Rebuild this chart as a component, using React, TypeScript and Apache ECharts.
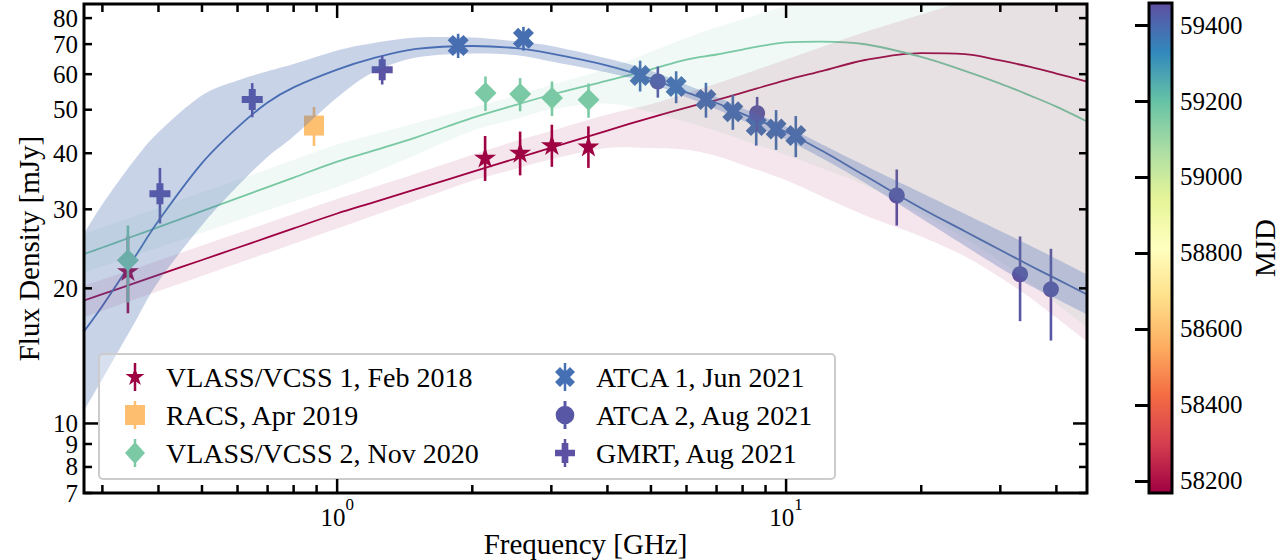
import React, { useEffect, useRef } from 'react';
import * as echarts from 'echarts';

const FONT = 'Liberation Serif';

// ---- axes ----
const X_MIN = 0.273;
const X_MAX = 46.8;
const Y_MIN = 7;
const Y_MAX = 86;
const MJD_MIN = 58168;
const MJD_MAX = 59458;

const xMajorTicks = [1, 10];
const xMinorTicks = [0.3, 0.4, 0.5, 0.6, 0.7, 0.8, 0.9, 2, 3, 4, 5, 6, 7, 8, 9, 20, 30, 40];
const yMajorTicks = [10];
const yMinorTicks = [7, 8, 9, 20, 30, 40, 50, 60, 70, 80];
const yTickLabels = [7, 8, 9, 10, 20, 30, 40, 50, 60, 70, 80];

const SPECTRAL = ['#9e0142', '#d53e4f', '#f46d43', '#fdae61', '#fee08b', '#ffffbf', '#e6f598', '#abdda4', '#66c2a5', '#3288bd', '#5e4fa2'];

// ---- measurements (GHz, mJy, MJD) ----
const vlass1Freq = [0.342, 2.136, 2.556, 3.008, 3.628];
const vlass1Flux = [21.9, 39.2, 40.2, 41.8, 41.5];
const vlass1Err = [4.3, 4.5, 4.5, 4.5, 4.4];
const vlass1Mjd = [58172, 58172, 58172, 58172, 58172];

const racsFreq = [0.888];
const racsFlux = [46.1];
const racsErr = [4.6];
const racsMjd = [58600];

const vlass2Freq = [0.342, 2.14, 2.556, 3.01, 3.63];
const vlass2Flux = [23.1, 54.5, 54.2, 53.1, 52.6];
const vlass2Err = [4.5, 4.8, 4.6, 4.7, 4.6];
const vlass2Mjd = [59160, 59160, 59160, 59160, 59160];

const atca1Freq = [1.86, 2.6, 4.73, 5.69, 6.63, 7.61, 8.58, 9.5, 10.51];
const atca1Flux = [69.5, 72.1, 59.6, 56.3, 52.7, 49.5, 46.1, 45.3, 43.8];
const atca1Err = [4.3, 4.4, 4.7, 4.6, 4.7, 4.4, 4.5, 4.6, 4.6];
const atca1Mjd = [59385, 59385, 59385, 59385, 59385, 59385, 59385, 59385, 59385];

const atca2Freq = [5.18, 8.62, 17.64, 33.2, 38.9];
const atca2Flux = [57.8, 49.1, 32.2, 21.5, 19.9];
const atca2Err = [4.6, 4.3, 4.6, 4.6, 4.6];
const atca2Mjd = [59440, 59440, 59440, 59440, 59440];

const gmrtFreq = [0.403, 0.647, 1.26];
const gmrtFlux = [32.5, 52.7, 61.4];
const gmrtErr = [4.6, 4.6, 4.5];
const gmrtMjd = [59450, 59450, 59450];

// ---- fitted spectra and their uncertainty bands ----
const fitFreq = [0.273, 0.3, 0.35, 0.4, 0.5, 0.6, 0.7, 0.8, 1.0, 1.2, 1.5, 2.0, 2.5, 3.0, 4.0, 5.0, 6.0, 7.0, 8.0, 10, 12, 15, 20, 25, 30, 35, 40, 46.8];

const redFit = [18.79, 19.41, 20.46, 21.43, 23.13, 24.63, 25.97, 27.2, 29.36, 31.06, 33.27, 36.34, 38.93, 41.17, 44.94, 48.03, 50.56, 52.54, 54.61, 58.21, 60.97, 64.53, 66.86, 66.52, 64.37, 62.27, 60.19, 57.77];
const redLo = [17.26, 17.83, 18.82, 19.72, 21.32, 22.73, 23.99, 25.13, 27.19, 29.0, 31.37, 34.71, 36.92, 38.8, 41.09, 41.07, 40.73, 39.43, 37.69, 34.82, 32.09, 29.08, 26.08, 23.57, 21.14, 19.05, 17.19, 15.23];
const redHi = [20.29, 20.93, 22.05, 23.07, 24.92, 26.53, 27.97, 29.29, 31.64, 33.54, 36.05, 39.67, 42.58, 44.88, 48.78, 51.45, 54.47, 57.18, 59.84, 64.69, 68.96, 74.53, 81.46, 87.35, 92.41, 96.92, 101.0, 106.0];

const greenFit = [23.85, 24.66, 26.09, 27.39, 29.72, 31.77, 33.62, 35.29, 38.31, 40.49, 43.4, 47.96, 51.26, 53.99, 58.06, 61.51, 64.69, 66.37, 68.08, 70.63, 70.93, 69.96, 65.56, 61.04, 57.18, 53.74, 50.79, 47.06];
const greenLo = [21.69, 22.39, 23.59, 24.67, 26.61, 28.31, 29.83, 31.21, 33.65, 36.15, 39.71, 44.86, 47.66, 50.07, 51.61, 49.41, 46.98, 44.82, 42.84, 39.67, 37.06, 33.96, 29.31, 25.86, 22.95, 20.56, 18.51, 16.36];
const greenHi = [26.42, 27.31, 28.84, 30.23, 32.72, 34.89, 36.86, 38.65, 41.82, 43.98, 46.72, 50.5, 53.77, 56.75, 61.76, 67.32, 72.28, 76.26, 79.48, 85.19, 90.16, 96.63, 105.7, 113.1, 119.7, 126.0, 131.2, 137.4];

const blueFit = [16.03, 18.27, 23.04, 28.28, 38.02, 45.67, 51.86, 56.07, 61.42, 65.05, 68.29, 69.34, 68.56, 66.65, 62.69, 58.64, 54.66, 51.76, 48.96, 44.61, 40.55, 35.62, 30.16, 26.81, 24.35, 22.46, 20.99, 19.38];
const blueLo = [10.69, 12.57, 16.44, 20.72, 27.66, 33.79, 39.25, 43.62, 53.22, 60.5, 65.35, 66.69, 66.17, 64.02, 60.5, 57.13, 53.33, 50.14, 47.3, 42.91, 39.02, 34.33, 28.64, 24.89, 22.2, 20.27, 18.95, 17.49];
const blueHi = [26.5, 30.79, 38.13, 44.55, 53.83, 58.06, 60.91, 63.22, 67.73, 70.35, 72.4, 72.4, 71.0, 69.31, 65.02, 61.04, 56.8, 53.39, 50.41, 45.81, 41.91, 37.49, 32.65, 29.31, 26.85, 24.89, 23.26, 21.47];

// ---- marker shapes ----
const STAR_SYM = 'path://M10,0 L12.245,6.91 L19.511,6.91 L13.633,11.18 L15.878,18.09 L10,13.82 L4.122,18.09 L6.367,11.18 L0.489,6.91 L7.755,6.91 Z';
const X_SYM = 'path://M5,0 L10,5 L15,0 L20,5 L15,10 L20,15 L15,20 L10,15 L5,20 L0,15 L5,10 L0,5 Z';
const PLUS_SYM = 'path://M6,0 L12,0 L12,6 L18,6 L18,12 L12,12 L12,18 L6,18 L6,12 L0,12 L0,6 L6,6 Z';
const BAR = ' M8.75,0 L11.25,0 L11.25,28 L8.75,28 Z';
const STAR_LEG = 'path://M10,4 L12.245,10.91 L19.511,10.91 L13.633,15.18 L15.878,22.09 L10,17.82 L4.122,22.09 L6.367,15.18 L0.489,10.91 L7.755,10.91 Z' + BAR;
const SQUARE_LEG = 'path://M0,4 L20,4 L20,24 L0,24 Z' + BAR;
const DIAMOND_LEG = 'path://M10,3 L20,14 L10,25 L0,14 Z' + BAR;
const X_LEG = 'path://M5,4 L10,9 L15,4 L20,9 L15,14 L20,19 L15,24 L10,19 L5,24 L0,19 L5,14 L0,9 Z' + BAR;
const CIRCLE_LEG = 'path://M2,14 A8,8 0 1,1 18,14 A8,8 0 1,1 2,14 Z M8.75,2 L11.25,2 L11.25,26 L8.75,26 Z';
const PLUS_LEG = 'path://M6.67,4 L13.33,4 L13.33,10.67 L20,10.67 L20,17.33 L13.33,17.33 L13.33,24 L6.67,24 L6.67,17.33 L0,17.33 L0,10.67 L6.67,10.67 Z' + BAR;

// Catmull-Rom smoothing of an open pixel-space polyline (drawing only)
function smoothPath(pts: number[][], steps: number): number[][] {
  const out: number[][] = [];
  const n = pts.length;
  for (let i = 0; i < n - 1; i++) {
    const p0 = pts[Math.max(0, i - 1)];
    const p1 = pts[i];
    const p2 = pts[i + 1];
    const p3 = pts[Math.min(n - 1, i + 2)];
    for (let s = 0; s < steps; s++) {
      const t = s / steps;
      const t2 = t * t;
      const t3 = t2 * t;
      const f = (a: number, b: number, c: number, d: number) =>
        0.5 * (2 * b + (-a + c) * t + (2 * a - 5 * b + 4 * c - d) * t2 + (-a + 3 * b - 3 * c + d) * t3);
      out.push([f(p0[0], p1[0], p2[0], p3[0]), f(p0[1], p1[1], p2[1], p3[1])]);
    }
  }
  out.push(pts[n - 1]);
  return out;
}

function buildOption() {
  const datasets = [
    { name: 'VLASS/VCSS 1, Feb 2018', freq: vlass1Freq, flux: vlass1Flux, err: vlass1Err, mjd: vlass1Mjd, symbol: STAR_SYM, size: 22, icon: STAR_LEG, color: '#9e0142' },
    { name: 'RACS, Apr 2019', freq: racsFreq, flux: racsFlux, err: racsErr, mjd: racsMjd, symbol: 'rect', size: 20, icon: SQUARE_LEG, color: '#fdbf6f' },
    { name: 'VLASS/VCSS 2, Nov 2020', freq: vlass2Freq, flux: vlass2Flux, err: vlass2Err, mjd: vlass2Mjd, symbol: 'diamond', size: 22, icon: DIAMOND_LEG, color: '#7bcaa5' },
    { name: 'ATCA 1, Jun 2021', freq: atca1Freq, flux: atca1Flux, err: atca1Err, mjd: atca1Mjd, symbol: X_SYM, size: 21, icon: X_LEG, color: '#4670b4' },
    { name: 'ATCA 2, Aug 2021', freq: atca2Freq, flux: atca2Flux, err: atca2Err, mjd: atca2Mjd, symbol: 'circle', size: 16, icon: CIRCLE_LEG, color: '#5857a6' },
    { name: 'GMRT, Aug 2021', freq: gmrtFreq, flux: gmrtFlux, err: gmrtErr, mjd: gmrtMjd, symbol: PLUS_SYM, size: 21, icon: PLUS_LEG, color: '#5c51a3' },
  ];

  const fits = [
    { name: 'fit Feb 2018', fit: redFit, lo: redLo, hi: redHi, line: '#9e0142', band: 'rgba(158,1,66,0.1)' },
    { name: 'fit Nov 2020', fit: greenFit, lo: greenLo, hi: greenHi, line: '#79c9a3', band: 'rgba(121,201,163,0.11)' },
    { name: 'fit Aug 2021', fit: blueFit, lo: blueLo, hi: blueHi, line: '#4a6db2', band: 'rgba(74,109,178,0.3)' },
  ];

  const bandSeries = fits.map((b) => ({
    type: 'custom',
    name: b.name + ' band',
    xAxisIndex: 0,
    yAxisIndex: 0,
    z: 4,
    silent: true,
    clip: true,
    data: fitFreq.map((f, i) => [f, b.lo[i], b.hi[i]]),
    encode: { x: 0, y: 1 },
    renderItem: (params: any, api: any) => {
      if (params.dataIndex !== 0) return null;
      const top = smoothPath(fitFreq.map((f, i) => api.coord([f, b.hi[i]])), 8);
      const bot = smoothPath(fitFreq.map((f, i) => api.coord([f, b.lo[i]])), 8).reverse();
      return { type: 'polygon', shape: { points: top.concat(bot) }, style: { fill: b.band } };
    },
  }));

  const lineSeries = fits.map((b) => ({
    type: 'line',
    name: b.name,
    xAxisIndex: 0,
    yAxisIndex: 0,
    z: 1,
    silent: true,
    showSymbol: false,
    symbol: 'none',
    smooth: 0.35,
    lineStyle: { color: b.line, width: 1.8 },
    data: fitFreq.map((f, i) => [f, b.fit[i]]),
  }));

  const errSeries = datasets.map((d, i) => ({
    type: 'custom',
    name: d.name + ' errors',
    xAxisIndex: 0,
    yAxisIndex: 0,
    z: 2 + i * 0.1,
    silent: true,
    data: d.freq.map((f, j) => [f, d.flux[j], d.mjd[j], d.err[j]]),
    encode: { x: 0, y: 1 },
    renderItem: (params: any, api: any) => {
      const f = api.value(0);
      const s = api.value(1);
      const e = api.value(3);
      const a = api.coord([f, s - e]);
      const b = api.coord([f, s + e]);
      return { type: 'line', shape: { x1: a[0], y1: a[1], x2: b[0], y2: b[1] }, style: { stroke: api.visual('color'), lineWidth: 2.6 } };
    },
  }));

  const scatterSeries = datasets.map((d, i) => ({
    type: 'scatter',
    name: d.name,
    xAxisIndex: 0,
    yAxisIndex: 0,
    z: 2.05 + i * 0.1,
    silent: true,
    symbol: d.symbol,
    symbolSize: d.size,
    symbolKeepAspect: true,
    itemStyle: { color: d.color, opacity: 1 },
    data: d.freq.map((f, j) => [f, d.flux[j], d.mjd[j]]),
  }));

  const tickLen = { major: 14, minor: 8 };
  const frameSeries = {
    type: 'custom',
    name: 'frame',
    xAxisIndex: 0,
    yAxisIndex: 0,
    z: 7,
    silent: true,
    clip: false,
    data: [[X_MIN, Y_MIN]],
    renderItem: (params: any, api: any) => {
      const bl = api.coord([X_MIN, Y_MIN]);
      const tr = api.coord([X_MAX, Y_MAX]);
      const children: any[] = [];
      const seg = (x1: number, y1: number, x2: number, y2: number) =>
        children.push({ type: 'line', shape: { x1, y1, x2, y2 }, style: { stroke: '#000', lineWidth: 2.5 } });
      const xt = (vals: number[], len: number) => vals.forEach((v) => {
        const x = api.coord([v, Y_MIN])[0];
        seg(x, bl[1], x, bl[1] - len);
        seg(x, tr[1], x, tr[1] + len);
      });
      const yt = (vals: number[], len: number) => vals.forEach((v) => {
        const y = api.coord([X_MIN, v])[1];
        seg(bl[0], y, bl[0] + len, y);
        seg(tr[0], y, tr[0] - len, y);
      });
      xt(xMajorTicks, tickLen.major);
      xt(xMinorTicks, tickLen.minor);
      yt(yMajorTicks, tickLen.major);
      yt(yMinorTicks, tickLen.minor);
      yTickLabels.forEach((v) => {
        const y = api.coord([X_MIN, v])[1];
        children.push({
          type: 'text',
          x: bl[0] - 6,
          y,
          style: {
            text: String(v), fill: '#000', fontSize: 25, fontFamily: FONT, lineHeight: 19,
            align: 'right', verticalAlign: 'middle', textAlign: 'right', textVerticalAlign: 'middle',
          },
        });
      });
      children.push({
        type: 'rect',
        shape: { x: bl[0], y: tr[1], width: tr[0] - bl[0], height: bl[1] - tr[1] },
        style: { fill: 'none', stroke: '#000', lineWidth: 3 },
      });
      return { type: 'group', children };
    },
  };

  const colorbarSeries = {
    type: 'custom',
    name: 'colorbar',
    xAxisIndex: 1,
    yAxisIndex: 1,
    z: 2,
    silent: true,
    data: [[0, MJD_MIN]],
    renderItem: (params: any, api: any) => {
      const p0 = api.coord([0, MJD_MAX]);
      const p1 = api.coord([1, MJD_MIN]);
      const n = SPECTRAL.length - 1;
      const stops = SPECTRAL.map((c, k) => ({ offset: k / n, color: SPECTRAL[n - k] }));
      return {
        type: 'rect',
        shape: { x: p0[0], y: p0[1], width: p1[0] - p0[0], height: p1[1] - p0[1] },
        style: { fill: new echarts.graphic.LinearGradient(0, 0, 0, 1, stops), stroke: '#000', lineWidth: 3 },
      };
    },
  };

  const series = [...bandSeries, ...lineSeries, ...errSeries, ...scatterSeries, frameSeries, colorbarSeries];
  const pointSeriesIdx = [6, 7, 8, 9, 10, 11, 12, 13, 14, 15, 16, 17];

  const legendBase = {
    orient: 'vertical',
    top: 363,
    itemWidth: 52,
    itemHeight: 28,
    itemGap: 10,
    padding: 0,
    z: 6,
    selectedMode: false,
    symbolKeepAspect: true,
    textStyle: { fontSize: 28, fontFamily: FONT, color: '#000' },
  };

  return {
    animation: false,
    backgroundColor: '#fff',
    textStyle: { fontFamily: FONT },
    grid: [
      { left: 84, top: 4, width: 1003, height: 489, show: false, outerBoundsMode: 'none' },
      { left: 1149, top: 3, width: 23, height: 490, show: false, outerBoundsMode: 'none' },
    ],
    xAxis: [
      {
        type: 'log',
        logBase: 10,
        gridIndex: 0,
        min: X_MIN,
        max: X_MAX,
        axisLine: { show: false },
        axisTick: { show: false },
        minorTick: { show: false },
        splitLine: { show: false },
        axisLabel: {
          show: true,
          margin: 3,
          showMinLabel: false,
          showMaxLabel: false,
          formatter: (v: number) => `{b|10}{s|${Math.round(Math.log10(v))}}`,
          rich: {
            b: { fontSize: 25, fontFamily: FONT, color: '#000', lineHeight: 34, verticalAlign: 'bottom' },
            s: { fontSize: 17, fontFamily: FONT, color: '#000', lineHeight: 16, verticalAlign: 'top' },
          },
        },
        name: 'Frequency [GHz]',
        nameLocation: 'middle',
        nameGap: 36,
        nameMoveOverlap: false,
        nameTextStyle: { fontSize: 29, fontFamily: FONT, color: '#000' },
      },
      { type: 'value', gridIndex: 1, min: 0, max: 1, show: false },
    ],
    yAxis: [
      {
        type: 'log',
        logBase: 10,
        gridIndex: 0,
        min: Y_MIN,
        max: Y_MAX,
        axisLine: { show: false },
        axisTick: { show: false },
        minorTick: { show: false },
        splitLine: { show: false },
        axisLabel: { show: false },
        name: 'Flux Density [mJy]',
        nameLocation: 'middle',
        nameGap: 41,
        nameRotate: 90,
        nameMoveOverlap: false,
        nameTextStyle: { fontSize: 29, fontFamily: FONT, color: '#000' },
      },
      {
        type: 'value',
        gridIndex: 1,
        position: 'right',
        min: MJD_MIN,
        max: MJD_MAX,
        splitNumber: 6,
        z: 10,
        axisLine: { show: false },
        axisTick: { show: true, inside: true, length: 14, lineStyle: { color: '#000', width: 3 } },
        splitLine: { show: false },
        axisLabel: {
          show: true, margin: 8, showMinLabel: false, showMaxLabel: false,
          fontSize: 25, fontFamily: FONT, color: '#000',
          formatter: (v: number) => String(v),
        },
        name: 'MJD',
        nameLocation: 'middle',
        nameGap: 78,
        nameRotate: 90,
        nameMoveOverlap: false,
        nameTextStyle: { fontSize: 29, fontFamily: FONT, color: '#000' },
      },
    ],
    visualMap: {
      show: false,
      type: 'continuous',
      min: MJD_MIN,
      max: MJD_MAX,
      dimension: 2,
      seriesIndex: pointSeriesIdx,
      inRange: { color: SPECTRAL },
    },
    legend: [
      { ...legendBase, left: 125, data: datasets.slice(0, 3).map((d) => ({ name: d.name, icon: d.icon })) },
      { ...legendBase, left: 555, data: datasets.slice(3).map((d) => ({ name: d.name, icon: d.icon })) },
    ],
    graphic: [
      {
        type: 'rect',
        left: 98,
        top: 353,
        z: 5,
        silent: true,
        shape: { width: 736, height: 125, r: 4 },
        style: { fill: 'rgba(255,255,255,0.3)', stroke: '#cccccc', lineWidth: 2 },
      },
    ],
    series,
  };
}

const App = () => {
  const ref = useRef<HTMLDivElement>(null);
  useEffect(() => {
    if (!ref.current) return;
    const chart = echarts.init(ref.current, null, { renderer: 'svg' });
    chart.setOption(buildOption() as any);
    return () => chart.dispose();
  }, []);
  return (
    <div
      ref={ref}
      style={{ position: 'fixed', left: 0, top: 0, width: 1286, height: 560, background: '#fff' }}
    />
  );
};

export default App;
